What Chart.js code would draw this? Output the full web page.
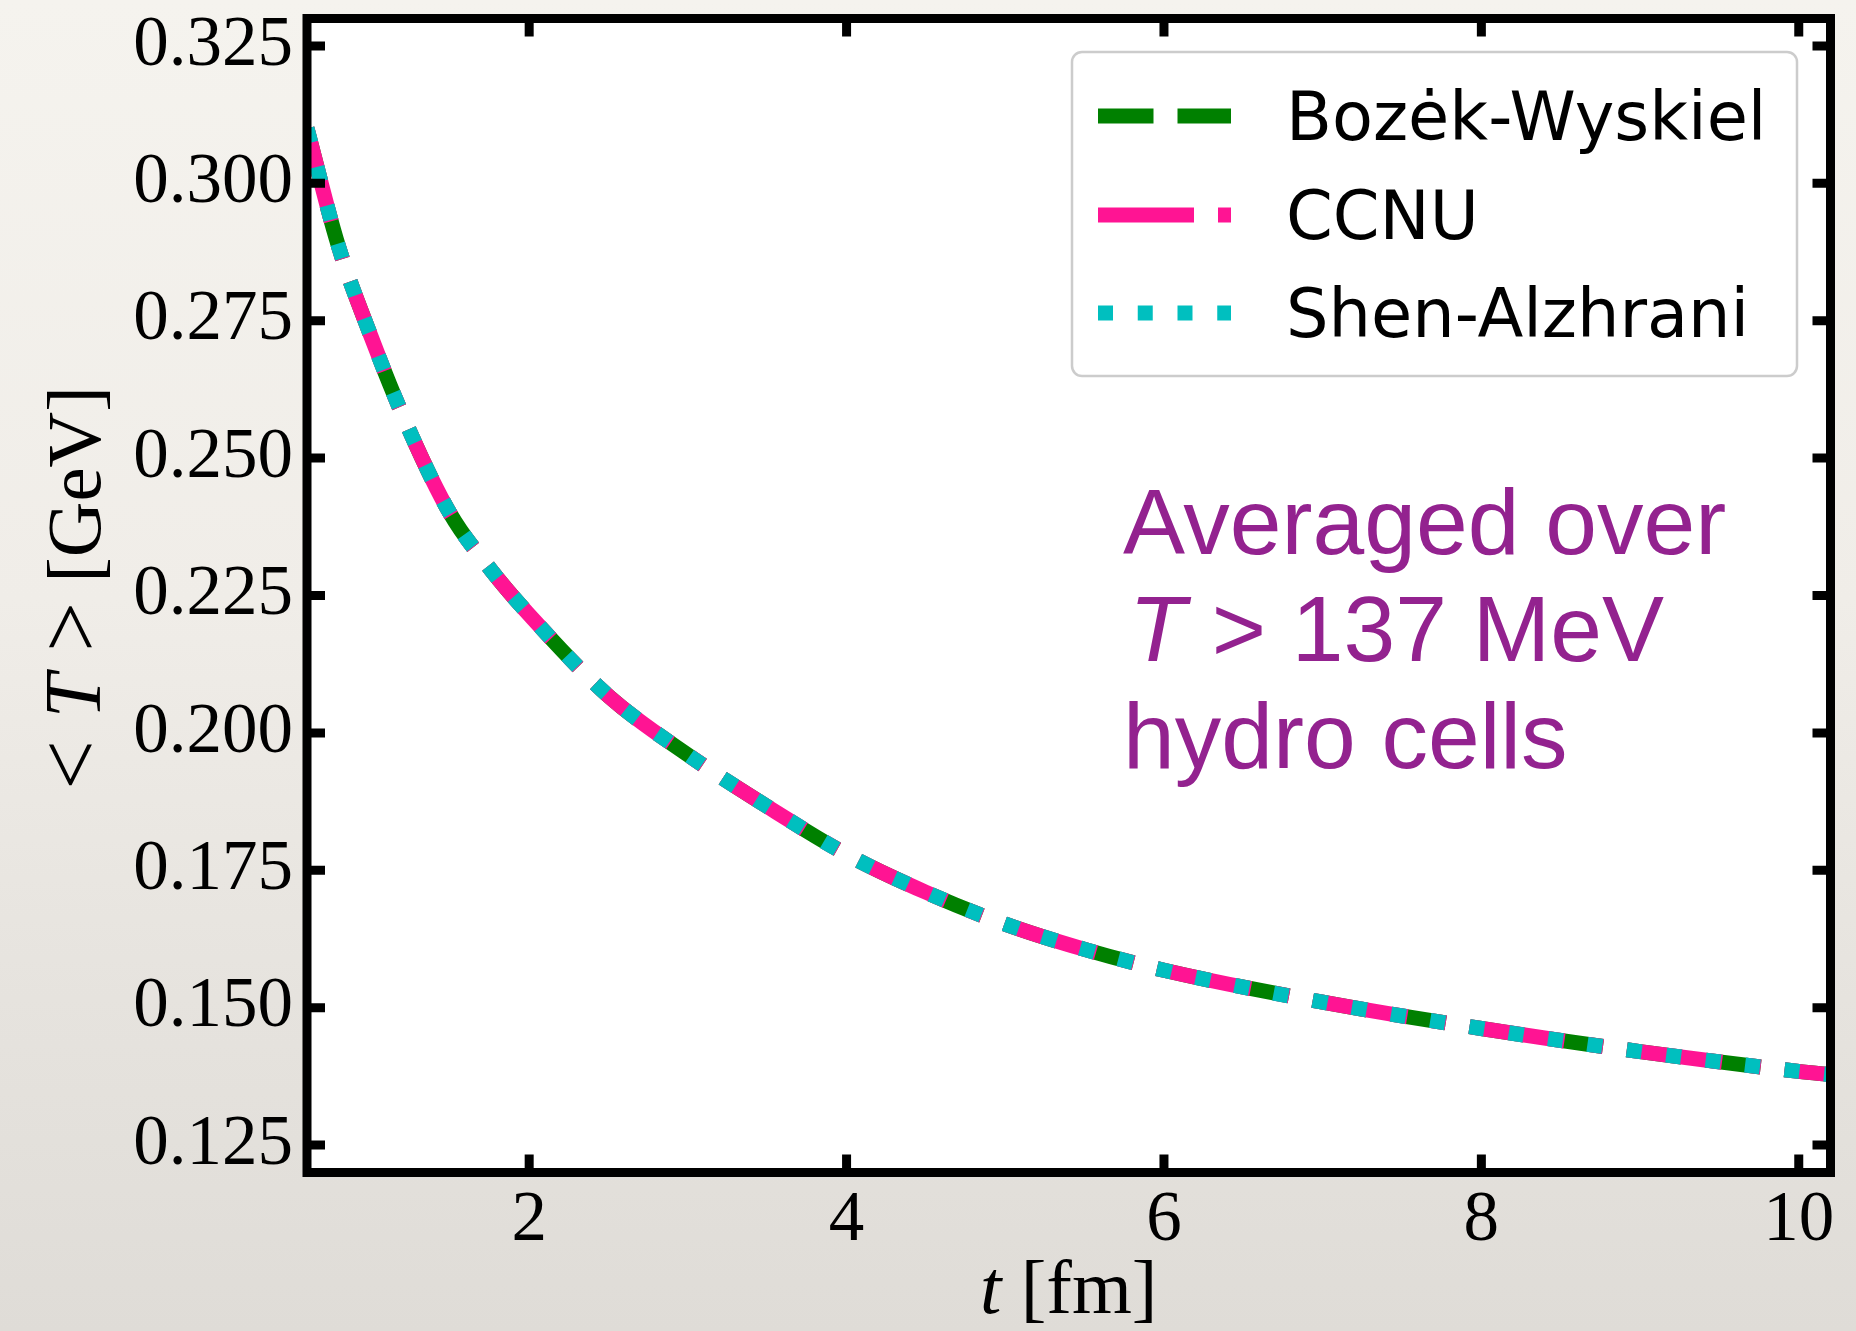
<!DOCTYPE html>
<html>
<head>
<meta charset="utf-8">
<script src="https://cdn.jsdelivr.net/npm/chart.js@4.4.0/dist/chart.umd.min.js"></script>
<style>
  html, body { margin: 0; padding: 0; }
  body {
    width: 1856px; height: 1331px; overflow: hidden;
    background: linear-gradient(to bottom, #f5f3ee 0%, #f0ede8 45%, #e6e3de 75%, #dfdcd7 100%);
  }
  #c { position: absolute; left: 0; top: 0; }
</style>
</head>
<body>
<canvas id="c" width="1856" height="1331"></canvas>
<script>
// time in fm
var tFm = [0.6, 0.8, 1.0, 1.2, 1.5, 1.75, 2.0, 2.5, 3.0, 3.5, 4.0, 4.5, 5.0, 5.5, 6.0, 7.0, 8.0, 9.0, 10.0, 10.2];
// <T> in GeV, the three parametrisations lie on top of each other
var bozekWyskiel = [0.3100, 0.2884, 0.2724, 0.2580, 0.2400, 0.2300, 0.2215, 0.2067, 0.1960, 0.1866, 0.1779, 0.1710, 0.1652, 0.1606, 0.1568, 0.1510, 0.1462, 0.1420, 0.1384, 0.1378];
var ccnu         = [0.3100, 0.2884, 0.2724, 0.2580, 0.2400, 0.2300, 0.2215, 0.2067, 0.1960, 0.1866, 0.1779, 0.1710, 0.1652, 0.1606, 0.1568, 0.1510, 0.1462, 0.1420, 0.1384, 0.1378];
var shenAlzhrani = [0.3100, 0.2884, 0.2724, 0.2580, 0.2400, 0.2300, 0.2215, 0.2067, 0.1960, 0.1866, 0.1779, 0.1710, 0.1652, 0.1606, 0.1568, 0.1510, 0.1462, 0.1420, 0.1384, 0.1378];

var xTickValues = [2, 4, 6, 8, 10];
var yTickValues = [0.125, 0.150, 0.175, 0.200, 0.225, 0.250, 0.275, 0.300, 0.325];
var seriesNames = ['Bozėk-Wyskiel', 'CCNU', 'Shen-Alzhrani'];
var noteLines = ['Averaged over', 'T > 137 MeV', 'hydro cells'];

var LW = 15;
var dashGreen = [3.7 * LW, 1.6 * LW];
var dashPink = [6.4 * LW, 1.6 * LW, 1.0 * LW, 1.6 * LW];
var dotCyan = [1.0 * LW, 1.65 * LW];

function pts(ys) {
    return tFm.map(function(t, i) { return { x: t, y: ys[i] }; });
}

var serif = '"Liberation Serif", "Times New Roman", serif';

// white plot area
var plotBg = {
    id: 'plotBg',
    beforeDraw: function(chart) {
        var a = chart.chartArea, ctx = chart.ctx;
        ctx.save();
        ctx.fillStyle = '#ffffff';
        ctx.fillRect(a.left, a.top, a.right - a.left, a.bottom - a.top);
        ctx.restore();
    }
};

// frame + inward ticks on all four sides
var frame = {
    id: 'frame',
    afterDatasetsDraw: function(chart) {
        var a = chart.chartArea, ctx = chart.ctx;
        var x = chart.scales.x, y = chart.scales.y;
        var len = 18;
        ctx.save();
        ctx.strokeStyle = '#000';
        ctx.lineWidth = 9;
        ctx.beginPath();
        x.ticks.forEach(function(t) {
            var px = x.getPixelForValue(t.value);
            ctx.moveTo(px, a.bottom); ctx.lineTo(px, a.bottom - len);
            ctx.moveTo(px, a.top); ctx.lineTo(px, a.top + len);
        });
        y.ticks.forEach(function(t) {
            var py = y.getPixelForValue(t.value);
            ctx.moveTo(a.left, py); ctx.lineTo(a.left + len, py);
            ctx.moveTo(a.right, py); ctx.lineTo(a.right - len, py);
        });
        ctx.stroke();
        ctx.strokeRect(a.left, a.top, a.right - a.left, a.bottom - a.top);
        ctx.restore();
    }
};

// legend box in the upper right
var legendBox = {
    id: 'legendBox',
    afterDraw: function(chart) {
        var ctx = chart.ctx;
        var bx = 1072, by = 52, bw = 725, bh = 324;
        ctx.save();
        ctx.fillStyle = 'rgba(255,255,255,0.8)';
        ctx.strokeStyle = '#cccccc';
        ctx.lineWidth = 2.5;
        ctx.beginPath();
        ctx.roundRect(bx, by, bw, bh, 10);
        ctx.fill();
        ctx.stroke();
        var rows = [116, 215, 313];
        ctx.font = '67px "DejaVu Sans", sans-serif';
        ctx.textBaseline = 'alphabetic';
        ctx.textAlign = 'left';
        chart.data.datasets.forEach(function(ds, i) {
            ctx.strokeStyle = ds.borderColor;
            ctx.lineWidth = LW;
            ctx.lineCap = 'butt';
            ctx.setLineDash(ds.borderDash);
            ctx.beginPath();
            ctx.moveTo(1098, rows[i]);
            ctx.lineTo(1231, rows[i]);
            ctx.stroke();
            ctx.setLineDash([]);
            ctx.fillStyle = '#000';
            ctx.fillText(ds.label, 1286, rows[i] + 24);
        });
        ctx.restore();
    }
};

// axis titles and the purple note
var texts = {
    id: 'texts',
    afterDraw: function(chart) {
        var ctx = chart.ctx, a = chart.chartArea;
        ctx.save();
        ctx.fillStyle = '#000';
        ctx.textBaseline = 'alphabetic';
        ctx.textAlign = 'left';

        // x title: t [fm]
        var it = 'italic 77px ' + serif, rg = '77px ' + serif;
        ctx.font = it; var w1 = ctx.measureText('t').width;
        ctx.font = rg; var w2 = ctx.measureText(' [fm]').width;
        var cx = (a.left + a.right) / 2 - (w1 + w2) / 2;
        ctx.font = it; ctx.fillText('t', cx, 1313);
        ctx.font = rg; ctx.fillText(' [fm]', cx + w1, 1313);

        // y title: < T > [GeV]
        var big = '88px ' + serif;
        ctx.translate(100, 588);
        ctx.rotate(-Math.PI / 2);
        ctx.font = big; var p1 = ctx.measureText('< ').width;
        ctx.font = 'italic 80px ' + serif; var p2 = ctx.measureText('T').width;
        ctx.font = big; var p3 = ctx.measureText(' >').width;
        ctx.font = rg; var p4 = ctx.measureText(' [GeV]').width;
        var sx = -(p1 + p2 + p3 + p4) / 2;
        ctx.font = big; ctx.fillText('< ', sx, 0);
        ctx.font = 'italic 80px ' + serif; ctx.fillText('T', sx + p1, 0);
        ctx.font = big; ctx.fillText(' >', sx + p1 + p2, 0);
        ctx.font = rg; ctx.fillText(' [GeV]', sx + p1 + p2 + p3, 0);
        ctx.setTransform(1, 0, 0, 1, 0, 0);

        // note
        var sans = '"Liberation Sans", Arial, sans-serif';
        ctx.fillStyle = '#93228f';
        ctx.font = '93px ' + sans;
        ctx.fillText(noteLines[0], 1123, 554);
        ctx.font = 'italic 93px ' + sans;
        ctx.fillText(noteLines[1].slice(0, 1), 1129, 661);
        var tw = ctx.measureText('T').width;
        ctx.font = '93px ' + sans;
        ctx.fillText(noteLines[1].slice(1), 1129 + tw, 661);
        ctx.fillText(noteLines[2], 1123, 768);
        ctx.restore();
    }
};

function noPad(s) {
    s.paddingTop = 0; s.paddingBottom = 0; s.paddingLeft = 0; s.paddingRight = 0;
}

var ctx = document.getElementById('c').getContext('2d');
var chart = new Chart(ctx, {
    type: 'line',
    data: {
        datasets: [{
            label: seriesNames[0],
            data: pts(bozekWyskiel),
            borderColor: '#008000',
            borderDash: dashGreen,
            order: 3
        }, {
            label: seriesNames[1],
            data: pts(ccnu),
            borderColor: '#ff1493',
            borderDash: dashPink,
            order: 2
        }, {
            label: seriesNames[2],
            data: pts(shenAlzhrani),
            borderColor: '#00bfbf',
            borderDash: dotCyan,
            order: 1
        }]
    },
    options: {
        responsive: false,
        animation: false,
        events: [],
        layout: { padding: { top: 18.5, right: 25.5, left: 0, bottom: 0 } },
        elements: {
            line: { borderWidth: LW, cubicInterpolationMode: 'monotone', borderCapStyle: 'butt', fill: false },
            point: { radius: 0 }
        },
        plugins: {
            legend: { display: false },
            tooltip: { enabled: false }
        },
        scales: {
            x: {
                type: 'linear',
                min: 0.6,
                max: 10.2,
                afterBuildTicks: function(s) { s.ticks = xTickValues.map(function(v) { return { value: v }; }); },
                afterFit: function(s) { s.height = 1331 - 1172.5; noPad(s); },
                grid: { display: false, drawTicks: false },
                border: { display: false },
                ticks: {
                    font: { family: serif, size: 71 },
                    color: '#000',
                    padding: 6,
                    maxRotation: 0,
                    callback: function(v) { return String(v); }
                }
            },
            y: {
                type: 'linear',
                min: 0.12,
                max: 0.33,
                afterBuildTicks: function(s) { s.ticks = yTickValues.map(function(v) { return { value: v }; }); },
                afterFit: function(s) { s.width = 307; noPad(s); },
                grid: { display: false, drawTicks: false },
                border: { display: false },
                ticks: {
                    font: { family: serif, size: 71 },
                    color: '#000',
                    padding: 14,
                    callback: function(v) { return Number(v).toFixed(3); }
                }
            }
        }
    },
    plugins: [plotBg, frame, legendBox, texts]
});
</script>
</body>
</html>
